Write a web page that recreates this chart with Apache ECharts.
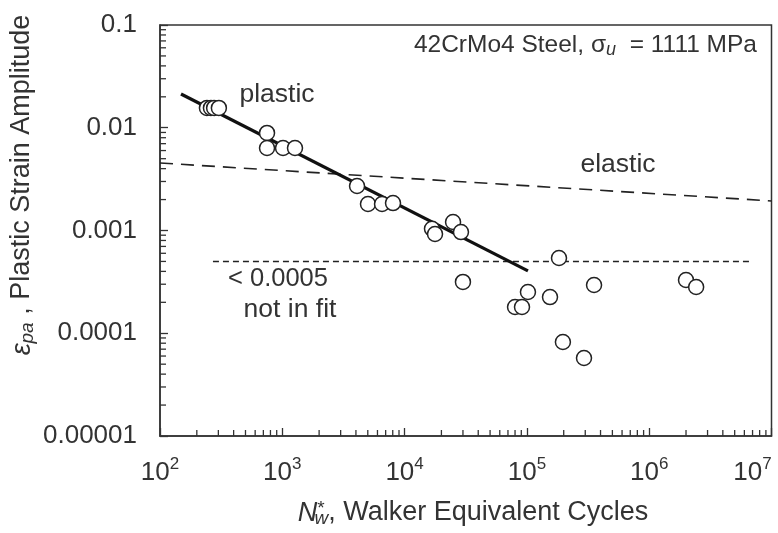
<!DOCTYPE html>
<html>
<head>
<meta charset="utf-8">
<script src="https://cdn.jsdelivr.net/npm/echarts@6/dist/echarts.min.js"></script>
<style>
html,body{margin:0;padding:0;background:#fff;}
#chart{width:778px;height:533px;}
</style>
</head>
<body>
<div id="chart"></div>
<script>
// ---- data ----
var cyclesNw = [242, 261, 277, 303, 750, 750, 1014, 1270, 4085, 5020, 6540, 8040,
  16750, 17730, 24900, 28900, 30000, 80000, 91200, 102000, 154500, 183000, 197000,
  293000, 354000, 2000000, 2420000];
var strainPa = [0.0156, 0.0156, 0.0156, 0.0156, 0.0089, 0.00635, 0.00635, 0.00635, 0.00271, 0.00181, 0.00181, 0.00185,
  0.00104, 0.000925, 0.00121, 0.000966, 0.000316, 0.00018, 0.00018, 0.000252, 0.000225, 0.00054, 0.0000822,
  0.0000574, 0.000295, 0.00033, 0.000282];
var plasticFitX = [148.5, 102000];
var plasticFitY = [0.0213, 0.000404];
var elasticX = [100, 10000000];
var elasticY = [0.00454, 0.00194];
var cutoffX = [271, 6800000];
var cutoffY = [0.0005, 0.0005];
var xTickExp = [2, 3, 4, 5, 6, 7];
var yTickLabels = ['0.00001', '0.0001', '0.001', '0.01', '0.1'];

var X_MIN = 100, X_MAX = 1e7, Y_MIN = 1e-5, Y_MAX = 0.1;
var ink = '#333';

function zip(a, b){ var r=[]; for (var i=0;i<a.length;i++) r.push([a[i], b[i]]); return r; }

// minor tick values 2..9 x 10^k
var xMinor = [], yMinor = [];
for (var k = 2; k < 7; k++) for (var m = 2; m <= 9; m++) xMinor.push([m*Math.pow(10,k), Y_MIN]);
for (var k2 = -5; k2 < -1; k2++) for (var m2 = 2; m2 <= 9; m2++) yMinor.push([X_MIN, +(m2*Math.pow(10,k2)).toPrecision(3)]);

var chart = echarts.init(document.getElementById('chart'), null, {renderer:'canvas'});
var FONT = '"Liberation Sans", Arial, Helvetica, sans-serif';

chart.setOption({
  animation: false,
  backgroundColor: '#fff',
  textStyle: {fontFamily: FONT, color: ink},
  grid: {left: 160, top: 25, right: 6.5, bottom: 97, show: true, borderColor: ink, borderWidth: 1.5,
         backgroundColor: 'transparent', containLabel: false, outerBoundsMode: 'none'},
  xAxis: {
    type: 'log', logBase: 10, min: X_MIN, max: X_MAX,
    axisLine: {show: true, onZero: false, lineStyle: {color: ink, width: 1.5}},
    axisTick: {show: true, inside: true, length: 8, lineStyle: {color: ink, width: 1.3}},
    splitLine: {show: false},
    axisLabel: {
      margin: 20, color: ink, fontFamily: FONT, hideOverlap: false, showMaxLabel: true, showMinLabel: true,
      formatter: function(v){
        var e = Math.round(Math.log10(v));
        return '{b|10}{' + (e === xTickExp[xTickExp.length - 1] ? 'sl' : 's') + '|' + e + '}';
      },
      rich: {
        b: {fontSize: 26, fontFamily: FONT, color: ink, lineHeight: 30, verticalAlign: 'bottom'},
        s: {fontSize: 17, fontFamily: FONT, color: ink, verticalAlign: 'top'},
        sl: {fontSize: 17, fontFamily: FONT, color: ink, verticalAlign: 'top', padding: [0, 38, 0, 0]}
      }
    }
  },
  yAxis: {
    type: 'log', logBase: 10, min: Y_MIN, max: Y_MAX,
    axisLine: {show: true, onZero: false, lineStyle: {color: ink, width: 1.5}},
    axisTick: {show: true, inside: true, length: 8, lineStyle: {color: ink, width: 1.3}},
    splitLine: {show: false},
    axisLabel: {
      margin: 23, fontSize: 26, color: ink, fontFamily: FONT, showMaxLabel: true, showMinLabel: true,
      formatter: function(v){ var e = Math.round(Math.log10(v)); return yTickLabels[e + 5]; }
    }
  },
  graphic: [
    {type: 'text', x: 757, y: 45, style: {
      text: '42CrMo4 Steel, σ{sub|u}  = 1111 MPa', align: 'right', verticalAlign: 'middle',
      font: '24.5px ' + FONT, fill: ink,
      rich: {sub: {fontSize: 18, fontStyle: 'italic', fontFamily: FONT, fill: ink, padding: [10,0,0,0]}}
    }},
    {type: 'text', x: 277, y: 95, style: {text: 'plastic', align: 'center', verticalAlign: 'middle', font: '26.5px ' + FONT, fill: ink}},
    {type: 'text', x: 618, y: 165, style: {text: 'elastic', align: 'center', verticalAlign: 'middle', font: '26.5px ' + FONT, fill: ink}},
    {type: 'text', x: 278, y: 279, style: {text: '< 0.0005', align: 'center', verticalAlign: 'middle', font: '25.5px ' + FONT, fill: ink}},
    {type: 'text', x: 290, y: 310, style: {text: 'not in fit', align: 'center', verticalAlign: 'middle', font: '26.5px ' + FONT, fill: ink}},
    {type: 'text', x: 473, y: 513, style: {
      text: '{n|N}{st|*}{w|w}, Walker Equivalent Cycles', align: 'center', verticalAlign: 'middle',
      font: '27px ' + FONT, fill: ink,
      rich: {
        n: {fontSize: 27, fontStyle: 'italic', fontFamily: FONT, fill: ink},
        st: {fontSize: 19, fontFamily: FONT, fill: ink, padding: [0,0,8,0]},
        w: {fontSize: 19, fontStyle: 'italic', fontFamily: FONT, fill: ink, padding: [11,0,0,-10]}
      }
    }},
    {type: 'text', x: 22, y: 185, rotation: Math.PI/2, style: {
      text: '{e|ε}{p|pa} , Plastic Strain Amplitude', align: 'center', verticalAlign: 'middle',
      font: '27px ' + FONT, fill: ink,
      rich: {
        e: {fontSize: 27, fontStyle: 'italic', fontFamily: FONT, fill: ink},
        p: {fontSize: 19, fontStyle: 'italic', fontFamily: FONT, fill: ink, padding: [11,0,0,0]}
      }
    }}
  ],
  series: [
    {type: 'line', data: zip(elasticX, elasticY), symbol: 'none', silent: true, z: 2,
     lineStyle: {color: '#222', width: 1.6, type: [13, 8]}},
    {type: 'line', data: zip(cutoffX, cutoffY), symbol: 'none', silent: true, z: 2,
     lineStyle: {color: '#222', width: 1.6, type: [6, 4]}},
    {type: 'line', data: zip(plasticFitX, plasticFitY), symbol: 'none', silent: true, z: 3,
     lineStyle: {color: '#111', width: 3.2}},
    {type: 'scatter', data: zip(cyclesNw, strainPa), symbol: 'circle', symbolSize: 15, z: 5,
     itemStyle: {color: '#fff', borderColor: '#222', borderWidth: 1.5, opacity: 1}},
    {type: 'custom', data: xMinor, clip: false, silent: true, z: 4,
     renderItem: function(params, api){
       var p = api.coord([api.value(0), api.value(1)]);
       return {type: 'line', shape: {x1: p[0], y1: p[1], x2: p[0], y2: p[1] - 6}, style: {stroke: ink, lineWidth: 1.3}};
     }},
    {type: 'custom', data: yMinor, clip: false, silent: true, z: 4,
     renderItem: function(params, api){
       var p = api.coord([api.value(0), api.value(1)]);
       return {type: 'line', shape: {x1: p[0], y1: p[1], x2: p[0] + 6, y2: p[1]}, style: {stroke: ink, lineWidth: 1.3}};
     }}
  ]
});
</script>
</body>
</html>
